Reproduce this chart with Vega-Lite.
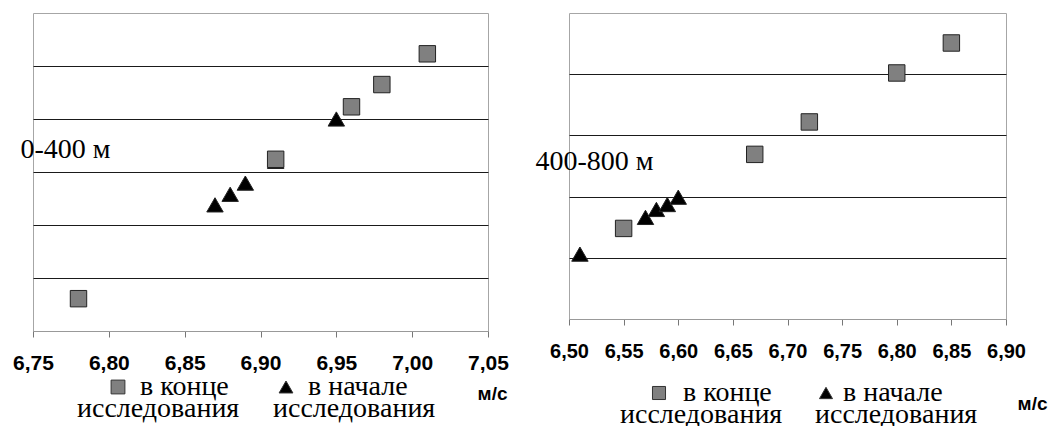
{
  "$schema": "https://vega.github.io/schema/vega-lite/v6.json",
  "background": "white",
  "padding": {"left": 12, "top": 12, "right": 0, "bottom": 0},
  "spacing": 25,
  "datasets": {
    "d400": [
      {"v": 6.87, "y": 2.38, "series": "в начале исследования"},
      {"v": 6.88, "y": 2.58, "series": "в начале исследования"},
      {"v": 6.89, "y": 2.79, "series": "в начале исследования"},
      {"v": 6.91, "y": 3.2, "series": "в начале исследования"},
      {"v": 6.95, "y": 4.0, "series": "в начале исследования"},
      {"v": 6.78, "y": 0.61, "series": "в конце исследования"},
      {"v": 6.91, "y": 3.24, "series": "в конце исследования"},
      {"v": 6.96, "y": 4.23, "series": "в конце исследования"},
      {"v": 6.98, "y": 4.65, "series": "в конце исследования"},
      {"v": 7.01, "y": 5.23, "series": "в конце исследования"}
    ],
    "d800": [
      {"v": 6.51, "y": 1.06, "series": "в начале исследования"},
      {"v": 6.57, "y": 1.66, "series": "в начале исследования"},
      {"v": 6.58, "y": 1.79, "series": "в начале исследования"},
      {"v": 6.59, "y": 1.87, "series": "в начале исследования"},
      {"v": 6.60, "y": 1.99, "series": "в начале исследования"},
      {"v": 6.55, "y": 1.48, "series": "в конце исследования"},
      {"v": 6.67, "y": 2.69, "series": "в конце исследования"},
      {"v": 6.72, "y": 3.22, "series": "в конце исследования"},
      {"v": 6.80, "y": 4.02, "series": "в конце исследования"},
      {"v": 6.85, "y": 4.51, "series": "в конце исследования"}
    ]
  },
  "hconcat": [
    {
      "width": 455,
      "height": 318,
      "data": {"name": "d400"},
      "mark": {"type": "point", "filled": true, "opacity": 1, "size": 270, "stroke": "#222", "strokeWidth": 1},
      "encoding": {
        "x": {
          "field": "v", "type": "quantitative",
          "scale": {"domain": [6.75, 7.05], "nice": false, "zero": false},
          "axis": {
            "values": [6.75, 6.8, 6.85, 6.9, 6.95, 7.0, 7.05],
            "labelExpr": "replace(format(datum.value, '.2f'), '.', ',')",
            "labelFontSize": 21, "labelPadding": 15, "tickSize": 6, "grid": false,
            "labelOverlap": false, "labelFlush": false,
            "title": "м/с", "titleFont": "Liberation Sans", "titleFontWeight": "bold", "titleFontSize": 19,
            "titleX": 474, "titleY": 68, "titleAlign": "right", "titleBaseline": "alphabetic"
          }
        },
        "y": {
          "field": "y", "type": "quantitative",
          "scale": {"domain": [0, 6], "nice": false, "zero": false},
          "axis": {
            "values": [1, 2, 3, 4, 5], "labels": false, "ticks": false, "domain": false, "grid": true,
            "title": "0-400 м", "titleAngle": 0, "titleFont": "Liberation Serif", "titleFontWeight": "normal",
            "titleFontSize": 28, "titleX": -13, "titleY": 144, "titleAlign": "left", "titleBaseline": "alphabetic"
          }
        },
        "color": {
          "field": "series", "type": "nominal",
          "scale": {"domain": ["в конце исследования", "в начале исследования"], "range": ["#808080", "#000000"]},
          "legend": {
            "title": null, "orient": "none", "legendX": 71, "legendY": 360, "direction": "horizontal",
            "labelFont": "Liberation Serif", "labelFontSize": 28, "labelColor": "#000",
            "labelBaseline": "middle", "labelLimit": 0, "labelOffset": -55, "columnPadding": 5, "padding": 0,
            "symbolSize": 190, "symbolStrokeWidth": 1, "symbolStrokeColor": "#333333",
            "labelExpr": "datum.value == 'в конце исследования' ? ['\u200b\u00a0\u00a0\u00a0\u00a0\u00a0\u00a0\u00a0\u00a0\u00a0в конце', 'исследования'] : ['\u200b\u00a0\u00a0\u00a0\u00a0\u00a0\u00a0\u00a0\u00a0\u00a0в начале', '\u200b\u00a0\u00a0\u00a0\u00a0исследования']"
          }
        },
        "shape": {
          "field": "series", "type": "nominal",
          "scale": {"domain": ["в конце исследования", "в начале исследования"], "range": ["square", "triangle-up"]},
          "legend": null
        }
      }
    },
    {
      "width": 437,
      "height": 306,
      "data": {"name": "d800"},
      "mark": {"type": "point", "filled": true, "opacity": 1, "size": 270, "stroke": "#222", "strokeWidth": 1},
      "encoding": {
        "x": {
          "field": "v", "type": "quantitative",
          "scale": {"domain": [6.5, 6.9], "nice": false, "zero": false},
          "axis": {
            "values": [6.5, 6.55, 6.6, 6.65, 6.7, 6.75, 6.8, 6.85, 6.9],
            "labelExpr": "replace(format(datum.value, '.2f'), '.', ',')",
            "labelFontSize": 20, "labelPadding": 16, "tickSize": 6, "grid": false,
            "labelOverlap": false, "labelFlush": false,
            "title": "м/с", "titleFont": "Liberation Sans", "titleFontWeight": "bold", "titleFontSize": 19,
            "titleX": 478, "titleY": 90, "titleAlign": "right", "titleBaseline": "alphabetic"
          }
        },
        "y": {
          "field": "y", "type": "quantitative",
          "scale": {"domain": [0, 5], "nice": false, "zero": false},
          "axis": {
            "values": [1, 2, 3, 4], "labels": false, "ticks": false, "domain": false, "grid": true,
            "title": "400-800 м", "titleAngle": 0, "titleFont": "Liberation Serif", "titleFontWeight": "normal",
            "titleFontSize": 28, "titleX": -34, "titleY": 156, "titleAlign": "left", "titleBaseline": "alphabetic"
          }
        },
        "color": {
          "field": "series", "type": "nominal",
          "scale": {"domain": ["в конце исследования", "в начале исследования"], "range": ["#808080", "#000000"]},
          "legend": {
            "title": null, "orient": "none", "legendX": 76, "legendY": 366, "direction": "horizontal",
            "labelFont": "Liberation Serif", "labelFontSize": 28, "labelColor": "#000",
            "labelBaseline": "middle", "labelLimit": 0, "labelOffset": -53, "columnPadding": 4, "padding": 0,
            "symbolSize": 170, "symbolStrokeWidth": 1, "symbolStrokeColor": "#333333",
            "labelExpr": "datum.value == 'в конце исследования' ? ['\u200b\u00a0\u00a0\u00a0\u00a0\u00a0\u00a0\u00a0\u00a0\u00a0в конце', 'исследования'] : ['\u200b\u00a0\u00a0\u00a0\u00a0\u00a0\u00a0\u00a0\u00a0в начале', '\u200b\u00a0\u00a0\u00a0\u00a0исследования']"
          }
        },
        "shape": {
          "field": "series", "type": "nominal",
          "scale": {"domain": ["в конце исследования", "в начале исследования"], "range": ["square", "triangle-up"]},
          "legend": null
        }
      }
    }
  ],
  "resolve": {
    "scale": {"color": "independent", "shape": "independent", "x": "independent", "y": "independent"},
    "legend": {"color": "independent", "shape": "independent"}
  },
  "config": {
    "style": {"guide-label": {"lineHeight": 22}},
    "view": {"stroke": "#a6a6a6", "strokeWidth": 1},
    "axis": {
      "labelFont": "Liberation Sans", "labelFontWeight": "bold", "labelColor": "#000000",
      "titleColor": "#000000", "gridColor": "#1a1a1a", "gridWidth": 1,
      "domainColor": "#999999", "tickColor": "#777777"
    }
  }
}
